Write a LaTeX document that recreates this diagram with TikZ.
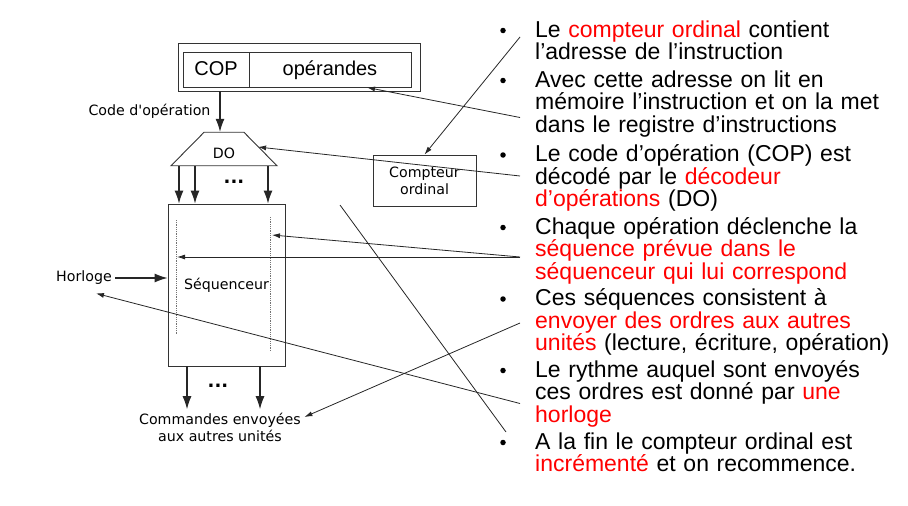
\documentclass[tikz,border=0pt]{standalone}
\usepackage{fontspec}
\newfontfamily\arial{Liberation Sans}
\newfontfamily\verd{DejaVu Sans}
\usetikzlibrary{arrows.meta,shapes.geometric}
\tikzset{
  box/.style={draw=black!80, line width=0.9pt, inner sep=0pt},
  lbl/.style={font=\verd\fontsize{14.2}{17}\selectfont},
  big/.style={font=\arial\fontsize{20}{24}\selectfont, text height=15pt, text depth=4pt},
  gapdots/.style={font=\verd\bfseries\fontsize{18}{20}\selectfont, inner sep=0pt},
  bus/.style={line width=1.1pt, black!85, -{Latex[length=13pt,width=9pt]}},
  ref/.style={line width=0.8pt, black!85, -{Latex[length=8pt,width=5pt]}},
  plain/.style={line width=0.8pt, black!85},
  trace/.style={densely dotted, line width=0.8pt, black!55},
  item/.style={anchor=base west, align=left, inner sep=0pt, text width=380pt,
    font=\arial\fontsize{23}{22.7}\selectfont},
  dot/.style={circle, fill, inner sep=0pt, minimum size=5.5pt},
}
\begin{document}
\begin{tikzpicture}[x=1pt,y=-1pt]
\useasboundingbox (0,0) rectangle (908,506);

\node[box, minimum width=242pt, minimum height=48pt] (reg) at (299,67) {};
\node[box, big, minimum width=66pt, minimum height=35pt] (cop) at (216,69.5) {COP};
\node[box, big, minimum width=162pt, minimum height=35pt] (ope) at (330,69.5) {opérandes};
\node[lbl, anchor=east] (cod) at (214,111) {Code d'opération};

\node[box, lbl, trapezium, trapezium stretches=true, minimum width=106pt, minimum height=33.5pt,
  trapezium left angle=46, trapezium right angle=46, text height=19pt, text depth=0pt] (do) at (224,149) {DO};
\draw[bus] (reg.south -| 220,0) -- (do.north -| 220,0);

\node[box, lbl, minimum width=117pt, minimum height=162pt] (seq) at (226.5,285) {Séquenceur};
\draw[bus] (do.south -| 179,0) -- (seq.north -| 179,0);
\draw[bus] (do.south -| 195,0) -- (seq.north -| 195,0);
\draw[bus] (do.south -| 268,0) -- (seq.north -| 268,0);
\node[gapdots] (gap1) at (234,182) {...};

\coordinate (trl1) at (176,220);
\coordinate (trl2) at (176,334);
\coordinate (trr1) at (270,217);
\coordinate (trr2) at (270,351);
\draw[trace] (trl1) -- (trl2);
\draw[trace] (trr1) -- (trr2);

\node[lbl] (clk) at (84,278) {Horloge};
\draw[bus] (clk.east) -- (clk.east -| seq.west);

\node[lbl, align=center] (cmd) at (220,427) {Commandes envoyées\\aux autres unités};
\draw[bus] (seq.south -| 187,0) -- (cmd.north -| 187,0);
\draw[bus] (seq.south -| 260,0) -- (cmd.north -| 260,0);
\node[gapdots] (gap2) at (218,386) {...};

\node[box, lbl, align=center, minimum width=103pt, minimum height=51pt] (cpt) at (424.5,180.5) {Compteur\\ordinal};

\node[dot] (d1) at (503,30.5) {};
\node[item] (b1) at (535,37) {Le \textcolor{red}{compteur ordinal} contient\\l’adresse de l’instruction};
\node[dot] (d2) at (503,80.5) {};
\node[item] (b2) at (535,87) {Avec cette adresse on lit en\\mémoire l’instruction et on la met\\dans le registre d’instructions};
\node[dot] (d3) at (503,155) {};
\node[item] (b3) at (535,161.5) {Le code d’opération (COP) est\\décodé par le \textcolor{red}{décodeur}\\\textcolor{red}{d’opérations} (DO)};
\node[dot] (d4) at (503,227.5) {};
\node[item] (b4) at (535,234) {Chaque opération déclenche la\\\textcolor{red}{séquence prévue dans le}\\\textcolor{red}{séquenceur qui lui correspond}};
\node[dot] (d5) at (503,299) {};
\node[item] (b5) at (535,305.5) {Ces séquences consistent à\\\textcolor{red}{envoyer des ordres aux autres}\\\textcolor{red}{unités} (lecture, écriture, opération)};
\node[dot] (d6) at (503,370.5) {};
\node[item] (b6) at (535,377) {Le rythme auquel sont envoyés\\ces ordres est donné par \textcolor{red}{une}\\\textcolor{red}{horloge}};
\node[dot] (d7) at (503,442.5) {};
\node[item] (b7) at (535,449) {A la fin le compteur ordinal est\\\textcolor{red}{incrémenté} et on recommence.};

\coordinate (s1) at (520,37);
\coordinate (s2) at (520,117.5);
\coordinate (s3) at (520,176);
\coordinate (s4) at (520,257);
\coordinate (s5) at (520,323);
\coordinate (s6) at (520,403.5);
\coordinate (s7) at (506,432);
\coordinate (e7) at (340,205);
\coordinate (hitr) at (272,235);
\coordinate (hitl) at (177,257);

\draw[ref] (s1) -- (cpt.north);
\draw[ref] (s2) -- ([xshift=37pt]ope.south);
\draw[ref] (s3) -- ([xshift=-3pt,yshift=2pt]do.east);
\draw[ref] (s4) -- (hitr);
\draw[ref] (s4) -- (hitl);
\draw[ref] (s5) -- ([yshift=10pt]cmd.east);
\draw[ref] (s6) -- ([xshift=12pt,yshift=-5pt]clk.south);
\draw[plain] (s7) -- (e7);
\end{tikzpicture}
\end{document}
